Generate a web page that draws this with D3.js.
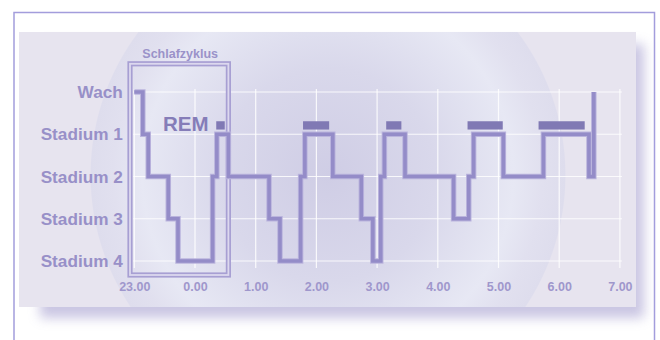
<!DOCTYPE html>
<html><head><meta charset="utf-8">
<script src="https://cdn.jsdelivr.net/npm/d3@7"></script>
<style>body{margin:0;background:#fff}svg{display:block}text{font-family:"Liberation Sans",Arial,sans-serif;font-weight:bold}</style>
</head><body><svg id="c" width="660" height="340"></svg>
<script>
// stages (top to bottom)
const stages = ["Wach","Stadium 1","Stadium 2","Stadium 3","Stadium 4"];
// hours after 23.00 and tick labels
const tickHours = [0,1,2,3,4,5,6,7,8];
const tickLabels = ["23.00","0.00","1.00","2.00","3.00","4.00","5.00","6.00","7.00"];
// hypnogram change points: time (h after 23.00), stage index
const hypTimes  = [0,0.14,0.23,0.56,0.72,1.29,1.36,1.55,2.22,2.40,2.74,2.81,3.27,3.74,3.93,4.06,4.12,4.46,5.26,5.51,5.59,6.08,6.74,7.49,7.57];
const hypStages = [0,1,2,3,4,2,1,2,3,4,2,1,2,3,4,2,1,2,3,2,1,2,1,2,0];
// REM periods
const remStart = [1.35,2.78,4.15,5.49,6.66];
const remEnd   = [1.49,3.21,4.40,6.07,7.42];
// first sleep cycle
const cycleStart = 0, cycleEnd = 1.55;

const svg = d3.select("#c");
const defs = svg.append("defs");
const blur = defs.append("filter").attr("id","blur").attr("x","-20%").attr("y","-20%").attr("width","140%").attr("height","140%");
blur.append("feGaussianBlur").attr("stdDeviation",6);
const rg = defs.append("radialGradient").attr("id","rg").attr("gradientUnits","userSpaceOnUse")
  .attr("cx",328).attr("cy",175).attr("r",238);
[[0,"#cfcde5"],[0.45,"#d9d8eb"],[0.78,"#e7e8f4"],[0.9,"#e1e0ef"],[0.995,"#dedded"],[1,"#e7e4ef"]]
  .forEach(s=>rg.append("stop").attr("offset",s[0]).attr("stop-color",s[1]));
defs.append("clipPath").attr("id","pc").append("rect").attr("x",19).attr("y",32).attr("width",617).attr("height",275);

// frame
svg.append("rect").attr("x",14).attr("y",12.5).attr("width",640.5).attr("height",360)
  .attr("fill","#fff").attr("stroke","#a39ddc").attr("stroke-width",1.5);
// shadow
svg.append("rect").attr("x",40).attr("y",44).attr("width",604).attr("height",274)
  .attr("fill","#b8b2d9").attr("opacity",0.75).attr("filter","url(#blur)");
// panel
svg.append("rect").attr("x",19).attr("y",32).attr("width",617).attr("height",275).attr("fill","#e7e4ef");
svg.append("circle").attr("cx",328).attr("cy",175).attr("r",238).attr("fill","url(#rg)").attr("clip-path","url(#pc)");

const x = d3.scaleLinear().domain([0,8]).range([134.3,619.9]);
const y = d3.scalePoint().domain(stages).range([92,261]);

// grid
const g = svg.append("g");
g.selectAll(".vg").data(tickHours).join("line")
  .attr("x1",d=>x(d)).attr("x2",d=>x(d)).attr("y1",89).attr("y2",268)
  .attr("stroke","#fff").attr("stroke-width",1.2).attr("opacity",0.85);
g.selectAll(".hg").data(stages).join("line")
  .attr("x1",x(0)-1).attr("x2",x(8)+2).attr("y1",d=>y(d)).attr("y2",d=>y(d))
  .attr("stroke","#fff").attr("stroke-width",1.2).attr("opacity",0.85);

// axes
const ax = svg.append("g").attr("transform",`translate(0,${y("Stadium 4")})`)
  .call(d3.axisBottom(x).tickValues(tickHours).tickFormat((d,i)=>tickLabels[i]).tickSize(0).tickPadding(21));
ax.select(".domain").remove();
ax.selectAll("text").attr("font-size",12.5).attr("fill","#9f97cc");
const ay = svg.append("g").attr("transform",`translate(${x(0)},0)`)
  .call(d3.axisLeft(y).tickSize(0).tickPadding(11.5));
ay.select(".domain").remove();
ay.selectAll("text").attr("font-size",17.2).attr("fill","#9890c8");

// cycle box
const bx0 = x(cycleStart)-4.3, bx1 = x(cycleEnd);
[["#a79fd3",5.2],["#dcd8ee",1.8]].forEach(s=>{
  svg.append("rect").attr("x",bx0).attr("y",63.8).attr("width",bx1-bx0).attr("height",275-63.8)
    .attr("fill","none").attr("stroke",s[0]).attr("stroke-width",s[1]);
});
svg.append("text").attr("x",(bx0+bx1)/2+1).attr("y",58).attr("text-anchor","middle")
  .attr("font-size",12.5).attr("fill","#9a92c9").text("Schlafzyklus");

// REM bars
const s1 = y("Stadium 1");
svg.selectAll(".rem").data(remStart).join("rect")
  .attr("x",d=>x(d)).attr("width",(d,i)=>x(remEnd[i])-x(d))
  .attr("y",s1-13).attr("height",8.3).attr("fill","#8079b4");
svg.append("text").attr("x",208.5).attr("y",131).attr("text-anchor","end")
  .attr("font-size",20.5).attr("fill","#857db8").text("REM");

// hypnogram
const pts = hypTimes.map((t,i)=>[t,hypStages[i]]);
const line = d3.line().x(d=>x(d[0])).y(d=>y(stages[d[1]])).curve(d3.curveStepAfter);
svg.append("path").attr("d",line(pts)).attr("fill","none").attr("stroke","#bab4dd").attr("stroke-width",5.5);
svg.append("path").attr("d",line(pts)).attr("fill","none").attr("stroke","#948cc8").attr("stroke-width",3.6);
</script></body></html>
